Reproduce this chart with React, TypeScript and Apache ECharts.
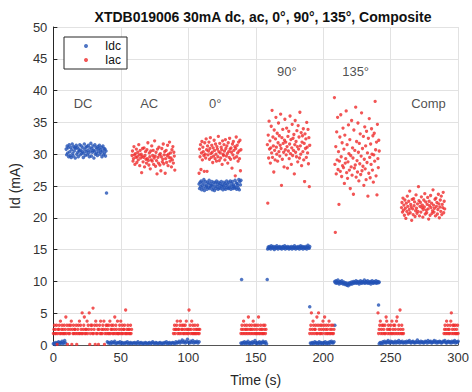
import React, { useEffect, useRef } from "react";
import * as echarts from "echarts";

// ---- Axis ticks ----
const xTicks = [0, 50, 100, 150, 200, 250, 300];
const yTicks = [0, 5, 10, 15, 20, 25, 30, 35, 40, 45, 50];

// ---- Annotations ----
const annoLabels = ["DC", "AC", "0°", "90°", "135°", "Comp"];
const annoX = [22, 71, 120, 173, 224, 278];
const annoY = [38, 38, 38, 43, 43, 38];

// ---- Idc segments: [tStart, tEnd] and sampled values (mA) ----
const idcZeroA_t = [0, 9];
const idcZeroA = [0.2,0.3,0.1,0.4,0.2,0.3,0.5,0.2,0.4,0.3,0.6,0.2,0.4,0.7,0.3];

const idcDC_t = [9.5, 39];
const idcDC = [
  30.8,29.9,31.3,30.2,31.0,29.6,31.5,30.4,29.8,31.1,29.5,30.7,31.6,30.1,29.7,31.2,30.5,31.0,29.4,30.9,
  31.4,30.0,31.1,30.3,29.6,30.8,30.5,31.5,29.9,30.6,31.3,30.1,30.4,31.0,29.5,30.2,31.6,30.7,29.8,31.1,
  30.4,31.2,29.9,30.6,31.4,30.2,29.6,31.0,30.5,31.7,29.7,30.9,30.3,31.3,30.6,29.4,30.5,31.5,30.0,31.1,
  30.2,30.8,29.8,31.2,30.4,30.9,31.4,30.0,30.7,30.3,31.1,29.6,30.5,31.3,29.9,30.9,30.2,30.8,29.7,30.5,
];

const idcZeroB_t = [40, 108];
const idcZeroB = [
  0.5,0.3,0.4,0.2,0.5,0.3,0.4,0.6,0.2,0.3,0.4,0.3,0.5,0.2,0.4,0.3,0.2,0.4,0.3,0.5,
  0.2,0.3,0.4,0.2,0.3,0.3,0.4,0.2,0.3,0.5,0.2,0.3,0.4,0.2,0.3,0.2,0.4,0.3,0.2,0.3,
  0.4,0.2,0.3,0.5,0.3,0.2,0.4,0.3,0.2,0.3,0.4,0.2,0.3,0.2,0.4,0.3,0.5,0.2,0.3,0.4,
  0.2,0.3,0.4,0.3,0.2,0.5,0.3,0.4,0.6,0.3,0.5,0.8,0.4,0.6,0.3,0.5,0.9,0.4,0.3,0.6,
  0.4,0.7,0.3,0.5,0.4,0.6,0.3,0.5,
];

const idc0_t = [108, 139];
const idc0 = [
  25.3,24.6,25.6,24.9,25.8,24.4,25.1,25.5,24.7,26.0,24.3,25.2,25.7,24.8,25.0,24.5,25.6,25.3,24.8,25.9,
  24.6,25.4,24.9,25.1,25.7,24.4,25.2,24.7,25.6,24.3,25.0,25.5,24.6,25.8,24.9,25.3,24.5,25.6,24.7,25.1,
  25.4,24.6,25.7,24.9,25.2,24.4,25.0,25.6,24.7,25.4,24.5,25.1,25.8,24.8,25.3,24.6,25.6,24.7,25.0,25.8,
  24.5,25.4,24.9,25.7,24.6,25.2,25.0,24.7,25.9,24.8,25.5,24.5,25.4,25.1,24.7,26.0,24.4,25.7,25.2,25.9,
];

const idcZeroC_t = [139, 158];
const idcZeroC = [0.3,0.2,0.4,0.3,0.5,0.2,0.4,0.3,0.6,0.2,0.3,0.4,0.2,0.5,0.3,0.4,0.7,0.3,0.2,0.4,0.3,0.5,0.2,0.4,0.3,0.6,0.4,0.3,0.5,0.2];

const idc90_t = [158.8, 190];
const idc90 = [
  15.1,15.4,15.2,15.5,15.3,15.1,15.6,15.3,15.4,15.2,15.5,15.0,15.3,15.4,15.2,15.6,15.3,15.1,15.4,15.3,
  15.5,15.2,15.3,15.1,15.4,15.5,15.2,15.3,15.6,15.1,15.4,15.3,15.2,15.5,15.3,15.1,15.4,15.2,15.3,15.5,
  15.1,15.3,15.4,15.2,15.6,15.3,15.1,15.4,15.3,15.2,15.5,15.3,15.1,15.4,15.6,15.2,15.3,15.5,15.1,15.4,
  15.3,15.2,15.5,15.3,15.1,15.4,15.7,15.3,15.2,15.5,
];

const idcZeroD_t = [190.5, 208];
const idcZeroD = [0.3,0.2,0.4,0.3,0.2,0.5,0.3,0.4,0.2,0.3,0.5,0.2,0.4,0.3,0.2,0.4,0.3,0.5,0.2,0.3,0.4,0.2,0.5,0.3,0.6,0.4,0.3,0.5];

const idc135_t = [208.5, 241.5];
const idc135 = [
  10.0,9.8,10.1,9.7,9.9,10.2,9.8,9.6,10.0,9.9,9.7,10.1,9.8,9.6,9.9,9.7,9.5,9.8,9.6,9.4,
  9.7,9.3,9.6,9.8,9.5,9.7,9.9,9.6,9.8,10.0,9.7,9.9,9.8,10.1,9.7,9.9,10.0,9.8,9.6,9.9,
  10.1,9.8,9.7,10.0,9.9,9.8,10.2,9.7,9.9,10.0,9.8,10.1,9.7,9.9,9.8,10.0,9.6,9.9,10.1,9.8,
  9.7,10.0,9.9,9.8,10.1,9.7,9.9,10.0,9.8,9.9,
];

const idcZeroE_t = [241.5, 300];
const idcZeroE = [
  0.2,0.4,0.3,0.2,0.5,0.3,0.6,0.4,0.3,0.5,0.7,0.4,0.3,0.6,0.4,0.5,0.3,0.4,0.6,0.3,
  0.5,0.4,0.7,0.3,0.5,0.4,0.6,0.3,0.4,0.5,0.3,0.6,0.4,0.5,0.7,0.4,0.3,0.5,0.6,0.4,
  0.3,0.5,0.4,0.8,0.4,0.5,0.3,0.6,0.4,0.5,0.3,0.4,0.6,0.5,0.3,0.7,0.4,0.5,0.6,0.3,
  0.4,0.5,0.7,0.4,0.6,0.3,0.5,0.4,0.6,0.5,0.3,0.4,0.6,0.5,0.7,0.4,0.3,0.5,0.6,0.4,
  0.5,0.3,0.6,0.4,0.5,0.7,0.3,0.5,0.4,0.6,
];

const idcOutX = [39.4, 139.5, 158.5, 190.0, 208.6, 241.0];
const idcOutY = [23.9, 10.3, 10.3, 6.0, 3.1, 6.3];

// ---- Iac: quantized low-level readings (digit = index into iacLevels) ----
const iacLevels = [0.1, 1.8, 2.45, 3.1, 3.75, 4.4, 5.05, 5.5, 5.8];

const iacLowA_t = [0, 58];
const iacLowA =
  "1231213012" + "2314123121" + "3125130213" + "1234021312" + "2130123141" +
  "3216123512" + "1241326013" + "2318123041" + "3120231412" + "1324012313" +
  "2131412321" + "3125132141" + "1231421312" + "2317121321" + "21312";

const iacLowB_t = [89, 108.5];
const iacLowB = "1231223412" + "2134123213" + "1231421217" + "2312413121" + "3121231212";

const iacLowC_t = [139, 157.6];
const iacLowC = "1231241321" + "2312513212" + "3124132131" + "2135121321" + "21312312";

const iacLowD_t = [190, 208];
const iacLowD = "1236124312" + "2315136213" + "1231423512" + "3121341213" + "21312";

const iacLowE_t = [240.6, 259.5];
const iacLowE = "6123412313" + "2131542132" + "1231412313" + "2145123172" + "13121";

const iacLowF_t = [289.5, 300];
const iacLowF = "1231241321" + "2134612313" + "21312131";

// ---- Iac clusters (mA) ----
const iacAC_t = [58.3, 90];
const iacAC = [
  29.8,30.5,28.9,29.3,31.2,29.9,28.4,30.1,29.5,30.8,
  28.7,29.6,30.3,29.1,31.5,29.9,28.2,30.6,29.4,30.0,
  27.1,29.7,30.9,28.8,29.5,31.0,28.0,29.8,30.4,29.2,
  28.6,30.7,29.3,31.8,29.0,28.3,30.2,29.6,27.7,30.5,
  29.1,31.3,28.9,29.8,30.6,28.4,29.4,32.1,29.7,28.1,
  30.3,29.0,26.9,30.8,29.5,28.6,31.1,29.9,28.3,30.1,
  27.4,29.6,30.9,28.8,29.2,31.6,28.5,29.9,30.4,27.0,
  29.3,30.6,28.7,29.8,31.4,28.2,30.0,29.5,31.9,28.9,
  30.2,29.4,28.0,30.7,29.1,31.2,28.6,30.3,29.7,27.5,
];

const iac0_t = [108, 139];
const iac0 = [
  27.0,30.8,29.6,31.5,27.6,30.2,32.0,29.1,31.1,30.4,
  29.8,27.3,31.8,30.0,29.4,32.4,30.7,27.3,31.3,29.9,
  30.5,31.9,29.2,30.9,32.6,30.1,29.5,31.4,30.3,28.7,
  31.0,29.7,32.2,30.6,29.3,31.6,30.0,28.9,31.2,30.8,
  29.6,32.8,30.4,29.0,31.7,30.2,29.4,31.1,30.7,28.4,
  32.1,30.0,29.8,31.5,30.5,29.1,32.3,30.9,29.7,31.3,
  30.1,28.6,31.8,30.4,29.5,32.5,30.8,29.2,31.0,30.3,
  27.8,31.6,29.9,32.0,30.6,29.4,31.2,26.6,30.9,32.7,
  29.6,31.4,30.2,28.9,31.9,30.5,29.3,32.2,27.4,30.7,
];

const iac90_t = [158.6, 190];
const iac90 = [
  31.5,22.3,33.0,29.4,35.2,30.8,32.1,28.6,31.0,34.4,
  30.2,36.9,29.5,32.7,31.3,27.2,33.8,30.6,29.1,32.4,
  35.8,31.1,30.0,33.3,28.9,31.8,34.9,30.4,32.9,29.7,
  31.4,36.3,30.9,25.1,32.6,29.2,33.9,31.7,30.3,28.0,
  32.2,35.5,30.7,31.9,29.9,34.1,31.2,27.8,32.8,30.5,
  33.6,29.3,31.6,36.0,30.1,32.3,28.4,31.0,34.7,29.8,
  32.5,30.6,33.1,26.9,31.5,35.3,30.3,32.0,29.6,33.7,
  31.2,28.8,34.5,30.8,32.7,29.4,36.6,31.3,30.0,33.4,
  28.2,31.9,32.9,30.4,34.0,29.1,31.7,25.7,33.2,30.9,
  32.4,29.5,35.0,31.1,30.2,33.9,28.5,32.6,24.9,31.4,
];

const iac135_t = [208.3, 241.5];
const iac135 = [
  38.9,28.4,17.7,31.2,26.9,33.5,29.1,35.8,27.6,30.4,
  22.1,28.9,32.7,27.3,36.2,29.6,26.5,31.8,28.2,34.1,
  27.9,30.8,25.4,33.0,28.6,29.3,36.8,27.1,31.5,26.2,
  28.8,34.6,30.1,27.5,32.3,24.6,29.8,28.0,35.3,26.7,
  31.0,29.4,23.7,33.8,27.8,30.6,28.3,37.4,26.4,32.0,
  29.0,27.2,34.9,30.3,25.8,31.7,28.5,33.2,26.8,29.7,
  36.5,27.4,30.9,28.1,32.8,25.1,29.2,34.3,27.7,31.3,
  26.0,33.6,28.7,30.2,23.4,32.5,27.0,35.6,29.5,26.3,
  31.6,28.4,34.0,30.0,27.5,32.9,25.6,29.9,33.3,28.9,
  38.3,30.7,26.6,31.9,23.6,34.7,29.3,27.9,32.2,30.5,
];

const iacComp_t = [258, 290];
const iacComp = [
  21.6,22.4,20.9,23.1,21.2,22.0,20.4,22.8,21.5,19.9,
  22.3,21.0,23.4,21.8,20.6,22.6,21.3,24.2,20.8,22.1,
  21.7,19.6,22.9,21.4,20.5,23.0,21.9,22.5,20.2,21.1,
  23.6,21.5,20.7,22.2,21.0,24.9,22.7,20.3,21.8,22.4,
  20.9,23.3,21.6,22.0,20.1,21.3,22.8,21.7,23.8,20.6,
  22.5,21.2,20.8,22.1,23.2,21.4,19.8,22.6,21.9,20.4,
  23.5,21.6,22.3,20.7,21.1,24.4,22.0,20.9,21.5,22.9,
  20.3,23.1,21.8,22.4,20.6,21.3,23.7,22.2,20.0,21.7,
  22.8,21.0,23.4,20.5,22.1,21.6,24.0,20.8,22.6,21.4,
];

// ---- helpers to pair sample values with their sample times ----
function seg(t: number[], vals: number[]): number[][] {
  const n = vals.length;
  return vals.map((v, i) => [t[0] + (n > 1 ? (i * (t[1] - t[0])) / (n - 1) : 0), v]);
}
function qseg(t: number[], digits: string): number[][] {
  return seg(t, digits.split("").map((c) => iacLevels[Number(c)]));
}

const FONT = "'Liberation Sans', Arial, Helvetica, sans-serif";
const BLUE = "#2352b5";
const RED = "#ef2a2a";

export default function App() {
  const ref = useRef<HTMLDivElement>(null);
  useEffect(() => {
    if (!ref.current) return;
    const chart = echarts.init(ref.current, undefined, { renderer: "svg" });

    const idcData = [
      ...seg(idcZeroA_t, idcZeroA),
      ...seg(idcDC_t, idcDC),
      ...seg(idcZeroB_t, idcZeroB),
      ...seg(idc0_t, idc0),
      ...seg(idcZeroC_t, idcZeroC),
      ...seg(idc90_t, idc90),
      ...seg(idcZeroD_t, idcZeroD),
      ...seg(idc135_t, idc135),
      ...seg(idcZeroE_t, idcZeroE),
      ...idcOutX.map((x, i) => [x, idcOutY[i]]),
    ];
    const iacData = [
      ...qseg(iacLowA_t, iacLowA),
      ...seg(iacAC_t, iacAC),
      ...qseg(iacLowB_t, iacLowB),
      ...seg(iac0_t, iac0),
      ...qseg(iacLowC_t, iacLowC),
      ...seg(iac90_t, iac90),
      ...qseg(iacLowD_t, iacLowD),
      ...seg(iac135_t, iac135),
      ...qseg(iacLowE_t, iacLowE),
      ...seg(iacComp_t, iacComp),
      ...qseg(iacLowF_t, iacLowF),
    ];

    chart.setOption({
      animation: false,
      backgroundColor: "#ffffff",
      textStyle: { fontFamily: FONT },
      title: {
        text: "XTDB019006 30mA dc, ac, 0°, 90°, 135°, Composite",
        left: 258,
        textAlign: "center",
        top: 5,
        textStyle: { fontSize: 14, fontWeight: "bold", color: "#111", fontFamily: FONT },
      },
      grid: { left: 53, right: 10, top: 27, bottom: 42 },
      legend: {
        data: ["Idc", "Iac"],
        orient: "vertical",
        left: 64,
        top: 37,
        icon: "circle",
        itemWidth: 4,
        itemHeight: 4,
        itemGap: 2,
        padding: [3, 6, 3, 20],
        borderColor: "#262626",
        borderWidth: 1,
        borderRadius: 0,
        backgroundColor: "#ffffff",
        textStyle: { fontSize: 12, color: "#111", lineHeight: 12, padding: [0, 0, 0, 12], fontFamily: FONT },
      },
      xAxis: {
        type: "value",
        min: xTicks[0],
        max: xTicks[xTicks.length - 1],
        interval: 50,
        name: "Time (s)",
        nameLocation: "middle",
        nameGap: 28,
        nameTextStyle: { fontSize: 14, color: "#262626", fontFamily: FONT },
        axisLine: { show: true, onZero: false, lineStyle: { color: "#555", width: 1 } },
        axisTick: { show: true, inside: true, length: 4, lineStyle: { color: "#555" } },
        axisLabel: { fontSize: 13, color: "#333", margin: 6, fontFamily: FONT },
        splitLine: { show: true, lineStyle: { color: "#e2e2e2", width: 1 } },
      },
      yAxis: {
        type: "value",
        min: yTicks[0],
        max: yTicks[yTicks.length - 1],
        interval: 5,
        name: "Id (mA)",
        nameLocation: "middle",
        nameGap: 29,
        nameTextStyle: { fontSize: 14, color: "#262626", fontFamily: FONT },
        axisLine: { show: true, lineStyle: { color: "#262626", width: 1 } },
        axisTick: { show: true, inside: true, length: 4, lineStyle: { color: "#262626" } },
        axisLabel: { fontSize: 13, color: "#333", margin: 6, fontFamily: FONT },
        splitLine: { show: true, lineStyle: { color: "#e2e2e2", width: 1 } },
      },
      series: [
        {
          name: "Idc",
          type: "scatter",
          symbol: "circle",
          symbolSize: 3.5,
          itemStyle: { color: BLUE },
          data: idcData,
          silent: true,
        },
        {
          name: "Iac",
          type: "scatter",
          symbol: "circle",
          symbolSize: 3.3,
          itemStyle: { color: RED },
          data: iacData,
          silent: true,
        },
        {
          name: "labels",
          type: "scatter",
          symbolSize: 0,
          silent: true,
          data: annoLabels.map((s, i) => ({ name: s, value: [annoX[i], annoY[i]] })),
          label: {
            show: true,
            position: "inside",
            formatter: "{b}",
            fontSize: 13,
            color: "#222",
            fontFamily: FONT,
          },
        },
      ],
    });
    return () => chart.dispose();
  }, []);
  return (
    <div
      ref={ref}
      style={{ position: "fixed", left: 0, top: 0, width: 472, height: 392, background: "#fff" }}
    />
  );
}
